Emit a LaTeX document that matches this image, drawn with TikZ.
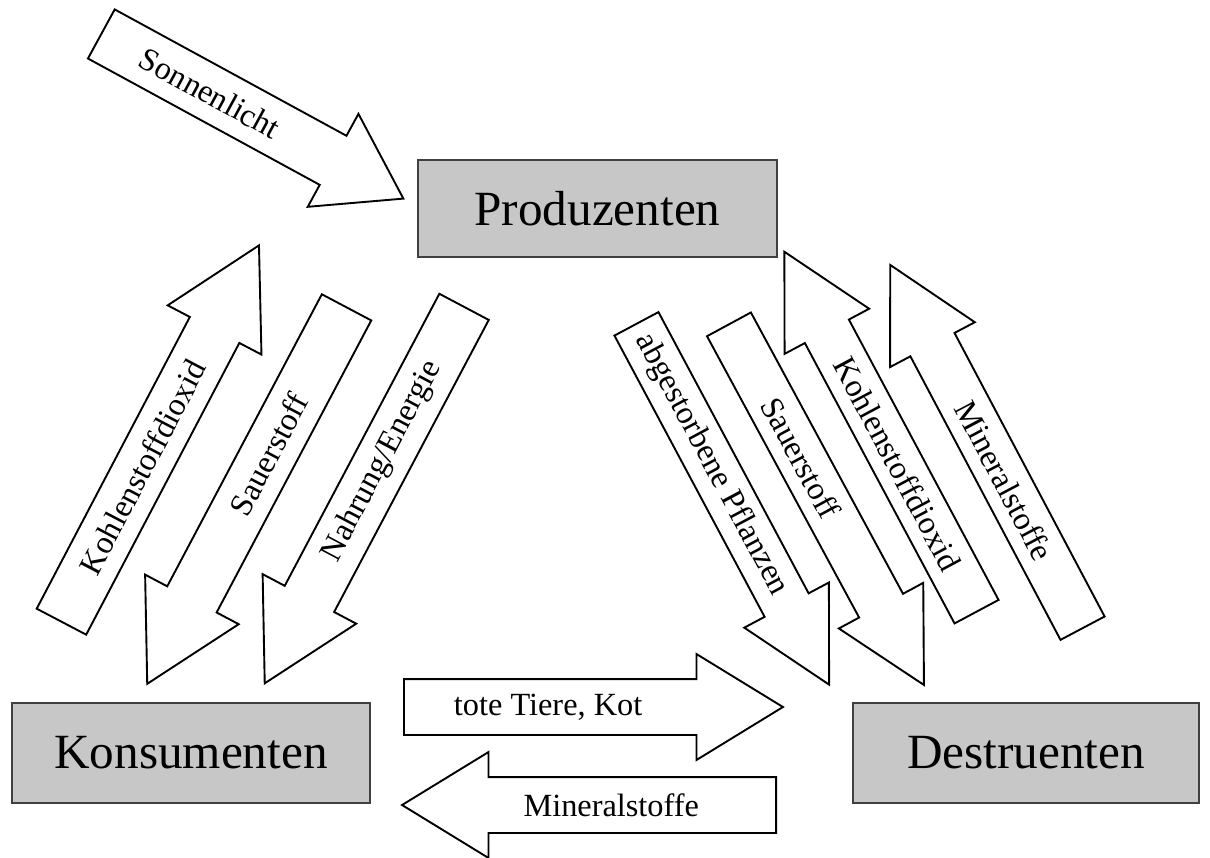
\documentclass[tikz,border=0pt]{standalone}
\usepackage{fontspec}
\setmainfont{Liberation Serif}
\usetikzlibrary{shapes.arrows,calc,positioning}

\def\pxu{0.025cm}
\definecolor{boxfill}{gray}{0.78}
\definecolor{boxline}{gray}{0.25}

\tikzset{
  box/.style={draw=boxline, fill=boxfill, line width=1.5pt, inner sep=0pt,
    font=\fontsize{35}{40}\selectfont},
  flow/.style={single arrow, draw=black, fill=white, line width=1.35pt,
    inner xsep=0pt, inner ysep={27*\pxu}, anchor=tail,
    minimum width={104*\pxu}, single arrow head extend={25*\pxu},
    single arrow tip angle=58},
  thin flow/.style={flow, inner ysep={24*\pxu}, minimum width={94*\pxu},
    single arrow head extend={23*\pxu}, single arrow tip angle=56},
  back/.style={shape border rotate=180},
  flowtext/.style={font=\fontsize{23}{26}\selectfont, inner sep=0pt}
}

\begin{document}
\begin{tikzpicture}[x=0.025cm, y=-0.025cm]
    \useasboundingbox (0,0) rectangle (1210,857);

    \node[box, minimum width={359*\pxu}, minimum height={97*\pxu}] (prod) at (597.5,208.5) {Produzenten};
    \node[box, minimum width={358*\pxu}, minimum height={100*\pxu}] (kons) at (191,753) {Konsumenten};
    \node[box, minimum width={346*\pxu}, minimum height={100*\pxu}] (dest) at (1026,753) {Destruenten};

    \node[flow, single arrow tip angle=67, minimum height={344*\pxu}, rotate=-28.6] (sun) at (100.5,33.5) {};
    \node[flowtext, rotate=-28.6] (sunT) at ($(sun.tail)!0.36!(sun.tip)$) {Sonnenlicht};

    \node[flow, minimum height={425*\pxu}, rotate=62.3] (kdL) at (61,622.5) {};
    \node[flowtext, rotate=62.3] (kdLT) at ($(kdL.tail)!0.41!(kdL.tip)$) {Kohlenstoffdioxid};
    \node[flow, back, minimum height={426*\pxu}, rotate=62.1] (oxL) at (347,306.5) {};
    \node[flowtext, rotate=62.1] (oxLT) at ($(oxL.tail)!0.39!(oxL.tip)$) {Sauerstoff};
    \node[flow, back, minimum height={426*\pxu}, rotate=62.1] (food) at (464.5,306) {};
    \node[flowtext, rotate=62.1] (foodT) at ($(food.tail)!0.41!(food.tip)$) {Nahrung/Energie};

    \node[thin flow, minimum height={409*\pxu}, rotate=-61.9] (dead) at (636,323) {};
    \node[flowtext, rotate=-61.9] (deadT) at ($(dead.tail)!0.39!(dead.tip)$) {abgestorbene Pflanzen};
    \node[thin flow, minimum height={410*\pxu}, rotate=-61.6] (oxR) at (728.5,323.5) {};
    \node[flowtext, rotate=-61.6] (oxRT) at ($(oxR.tail)!0.37!(oxR.tip)$) {Sauerstoff};
    \node[thin flow, back, minimum height={408*\pxu}, rotate=-61.9] (kdR) at (977,612.5) {};
    \node[flowtext, rotate=-61.9] (kdRT) at ($(kdR.tail)!0.41!(kdR.tip)$) {Kohlenstoffdioxid};
    \node[thin flow, back, minimum height={411*\pxu}, rotate=-62.1] (minR) at (1083,629) {};
    \node[flowtext, rotate=-62.1] (minRT) at ($(minR.tail)!0.405!(minR.tip)$) {Mineralstoffe};

    \node[flow, single arrow tip angle=63, minimum height={379*\pxu}] (waste) at (403,707) {};
    \node[flowtext] (wasteT) at ($(waste.tail)!0.38!(waste.tip)$) {tote Tiere, Kot};
    \node[flow, back, single arrow tip angle=63, minimum height={374*\pxu}] (minB) at (777,805) {};
    \node[flowtext] (minBT) at ($(minB.tail)!0.44!(minB.tip)$) {Mineralstoffe};
\end{tikzpicture}
\end{document}
